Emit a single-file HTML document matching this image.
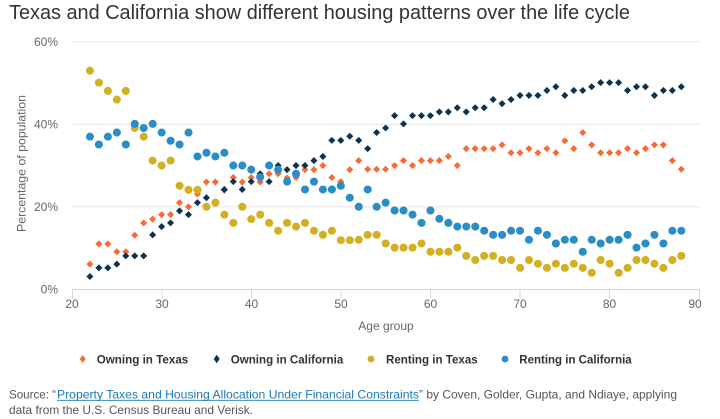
<!DOCTYPE html>
<html><head><meta charset="utf-8"><style>
html,body{margin:0;padding:0;background:#fff;}
svg{display:block;font-family:"Liberation Sans",sans-serif;}
</style></head><body>
<svg width="720" height="419" viewBox="0 0 720 419" xmlns="http://www.w3.org/2000/svg">
<rect width="720" height="419" fill="#fff"/>
<text x="9" y="19" font-size="20" fill="#333" textLength="621" lengthAdjust="spacingAndGlyphs">Texas and California show different housing patterns over the life cycle</text>

<!-- grid -->
<g stroke="#e6e6e6" stroke-width="1">
<line x1="72" x2="700" y1="206.8" y2="206.8"/>
<line x1="72" x2="700" y1="124.3" y2="124.3"/>
<line x1="72" x2="700" y1="41.8" y2="41.8"/>
</g>
<g stroke="#ccd6eb" stroke-width="1">
<line x1="72" x2="700" y1="289.5" y2="289.5"/>
<line x1="72.5" x2="72.5" y1="289.5" y2="298.5"/>
<line x1="162" x2="162" y1="289.5" y2="298.5"/>
<line x1="251.5" x2="251.5" y1="289.5" y2="298.5"/>
<line x1="341" x2="341" y1="289.5" y2="298.5"/>
<line x1="430.5" x2="430.5" y1="289.5" y2="298.5"/>
<line x1="520" x2="520" y1="289.5" y2="298.5"/>
<line x1="609.5" x2="609.5" y1="289.5" y2="298.5"/>
<line x1="699.5" x2="699.5" y1="289.5" y2="298.5"/>
</g>

<!-- y labels -->
<g font-size="12" fill="#666" text-anchor="end">
<text x="58" y="293.5">0%</text>
<text x="58" y="211">20%</text>
<text x="58" y="128.5">40%</text>
<text x="58" y="46">60%</text>
</g>
<!-- x labels -->
<g font-size="12" fill="#666" text-anchor="middle">
<text x="72" y="308">20</text>
<text x="162" y="308">30</text>
<text x="251.5" y="308">40</text>
<text x="341" y="308">50</text>
<text x="430.5" y="308">60</text>
<text x="520" y="308">70</text>
<text x="609.5" y="308">80</text>
<text x="695" y="308">90</text>
</g>
<text transform="translate(25.5,163.5) rotate(-90)" font-size="12" fill="#666" text-anchor="middle" textLength="137" lengthAdjust="spacingAndGlyphs">Percentage of population</text>
<text x="386" y="330" font-size="12" fill="#666" text-anchor="middle">Age group</text>

<!-- series -->
<g transform="matrix(8.96 0 0 -4.125 -107.2 289.3)" fill="none">
<path vector-effect="non-scaling-stroke" stroke="#fa6a37" stroke-width="5" stroke-linecap="square" d="M22 6.1l.00115 .0025M23 11l.00115 .0025M24 11l.00115 .0025M25 9.1l.00115 .0025M26 9.1l.00115 .0025M27 13.1l.00115 .0025M28 16.1l.00115 .0025M29 17l.00115 .0025M30 18.1l.00115 .0025M31 18.1l.00115 .0025M32 21l.00115 .0025M33 20l.00115 .0025M34 23.1l.00115 .0025M35 26l.00115 .0025M36 26l.00115 .0025M37 24l.00115 .0025M38 27.1l.00115 .0025M39 26l.00115 .0025M40 27.1l.00115 .0025M41 26l.00115 .0025M42 28l.00115 .0025M43 28l.00115 .0025M44 27l.00115 .0025M45 27.1l.00115 .0025M46 29l.00115 .0025M47 29l.00115 .0025M48 30l.00115 .0025M49 27.1l.00115 .0025M50 26.1l.00115 .0025M51 29l.00115 .0025M52 31.2l.00115 .0025M53 29.1l.00115 .0025M54 29.1l.00115 .0025M55 29.1l.00115 .0025M56 30l.00115 .0025M57 31.2l.00115 .0025M58 30l.00115 .0025M59 31.2l.00115 .0025M60 31.2l.00115 .0025M61 31.2l.00115 .0025M62 32.2l.00115 .0025M63 30l.00115 .0025M64 34.1l.00115 .0025M65 34.1l.00115 .0025M66 34.1l.00115 .0025M67 34.1l.00115 .0025M68 35l.00115 .0025M69 33.1l.00115 .0025M70 33.1l.00115 .0025M71 34.1l.00115 .0025M72 33.1l.00115 .0025M73 34.1l.00115 .0025M74 33.1l.00115 .0025M75 36l.00115 .0025M76 34.1l.00115 .0025M77 38l.00115 .0025M78 35l.00115 .0025M79 33.1l.00115 .0025M80 33.1l.00115 .0025M81 33.1l.00115 .0025M82 34.1l.00115 .0025M83 33.1l.00115 .0025M84 34.1l.00115 .0025M85 35l.00115 .0025M86 35l.00115 .0025M87 31.2l.00115 .0025M88 29.1l.00115 .0025"/>
<path vector-effect="non-scaling-stroke" stroke="#0b3452" stroke-width="5" stroke-linecap="square" d="M22 3.1l.00115 .0025M23 5.2l.00115 .0025M24 5.2l.00115 .0025M25 6.1l.00115 .0025M26 8.1l.00115 .0025M27 8.1l.00115 .0025M28 8.1l.00115 .0025M29 13.2l.00115 .0025M30 15.2l.00115 .0025M31 16.1l.00115 .0025M32 19l.00115 .0025M33 18.1l.00115 .0025M34 21l.00115 .0025M35 22.2l.00115 .0025M36 21l.00115 .0025M37 24.2l.00115 .0025M38 26.1l.00115 .0025M39 24.2l.00115 .0025M40 26.1l.00115 .0025M41 28l.00115 .0025M42 26.1l.00115 .0025M43 30l.00115 .0025M44 29l.00115 .0025M45 30l.00115 .0025M46 30l.00115 .0025M47 31.2l.00115 .0025M48 32.2l.00115 .0025M49 36.1l.00115 .0025M50 36.1l.00115 .0025M51 37.1l.00115 .0025M52 36.1l.00115 .0025M53 34.1l.00115 .0025M54 38l.00115 .0025M55 39.1l.00115 .0025M56 42.1l.00115 .0025M57 40.1l.00115 .0025M58 42.1l.00115 .0025M59 42.1l.00115 .0025M60 42.1l.00115 .0025M61 43l.00115 .0025M62 43l.00115 .0025M63 44l.00115 .0025M64 43l.00115 .0025M65 44l.00115 .0025M66 44l.00115 .0025M67 46l.00115 .0025M68 45l.00115 .0025M69 46l.00115 .0025M70 47l.00115 .0025M71 47l.00115 .0025M72 47l.00115 .0025M73 48.2l.00115 .0025M74 49.1l.00115 .0025M75 47l.00115 .0025M76 48.2l.00115 .0025M77 48.2l.00115 .0025M78 49.1l.00115 .0025M79 50.1l.00115 .0025M80 50.1l.00115 .0025M81 50.1l.00115 .0025M82 48.2l.00115 .0025M83 49.1l.00115 .0025M84 49.1l.00115 .0025M85 47l.00115 .0025M86 48.2l.00115 .0025M87 48.2l.00115 .0025M88 49.1l.00115 .0025"/>
<path vector-effect="non-scaling-stroke" stroke="#d3b022" stroke-width="8" stroke-linecap="round" d="M22 53h.01M23 50.1h.01M24 48.1h.01M25 46h.01M26 48.1h.01M27 39.1h.01M28 37h.01M29 31.2h.01M30 30h.01M31 31.2h.01M32 25.1h.01M33 24.1h.01M34 24.1h.01M35 20h.01M36 21h.01M37 18.1h.01M38 16.1h.01M39 20h.01M40 17h.01M41 18.1h.01M42 16.1h.01M43 14.2h.01M44 16.1h.01M45 15.2h.01M46 16.1h.01M47 14.2h.01M48 13.2h.01M49 14.2h.01M50 11.9h.01M51 11.9h.01M52 12h.01M53 13.2h.01M54 13.2h.01M55 11.1h.01M56 10.1h.01M57 10.1h.01M58 10.1h.01M59 11.1h.01M60 9.1h.01M61 9.1h.01M62 9.1h.01M63 10.1h.01M64 8.1h.01M65 7.1h.01M66 8.1h.01M67 8.1h.01M68 7.1h.01M69 7.1h.01M70 5.2h.01M71 7.1h.01M72 6.2h.01M73 5.2h.01M74 6.2h.01M75 5.2h.01M76 6.2h.01M77 5.2h.01M78 4h.01M79 7.1h.01M80 6.2h.01M81 4h.01M82 5.2h.01M83 7.1h.01M84 7.1h.01M85 6.2h.01M86 5.2h.01M87 7.1h.01M88 8.1h.01"/>
<path vector-effect="non-scaling-stroke" stroke="#2b8dc5" stroke-width="8" stroke-linecap="round" d="M22 37h.01M23 35.1h.01M24 37h.01M25 38h.01M26 35.1h.01M27 40.1h.01M28 39.1h.01M29 40.1h.01M30 38h.01M31 36h.01M32 35.1h.01M33 38h.01M34 32.2h.01M35 33.1h.01M36 32.2h.01M37 33.1h.01M38 30h.01M39 30h.01M40 29h.01M41 27.2h.01M42 30h.01M43 29h.01M44 26.1h.01M45 28h.01M46 24.2h.01M47 26.1h.01M48 24.2h.01M49 24.2h.01M50 25.1h.01M51 22.2h.01M52 20h.01M53 24.2h.01M54 20h.01M55 21h.01M56 19.1h.01M57 19.1h.01M58 18.1h.01M59 16.1h.01M60 19.1h.01M61 17.1h.01M62 16.1h.01M63 15.2h.01M64 15.2h.01M65 15.2h.01M66 14.2h.01M67 13.2h.01M68 13.2h.01M69 14.2h.01M70 14.2h.01M71 12h.01M72 14.2h.01M73 13.2h.01M74 11.1h.01M75 12h.01M76 12h.01M77 9.1h.01M78 12h.01M79 11.1h.01M80 12h.01M81 12h.01M82 13.2h.01M83 10.1h.01M84 11.1h.01M85 13.2h.01M86 11.1h.01M87 14.2h.01M88 14.2h.01"/>
</g>

<!-- legend -->
<path d="M82.7 355 L85.7 359 L82.7 363 L79.7 359 Z" fill="#fa6a37"/>
<text x="96.7" y="363.3" font-size="12" font-weight="bold" fill="#333" textLength="91.6" lengthAdjust="spacingAndGlyphs">Owning in Texas</text>
<path d="M216.7 354.8 L219.7 359 L216.7 363.2 L213.7 359 Z" fill="#0b3452"/>
<text x="230.7" y="363.3" font-size="12" font-weight="bold" fill="#333" textLength="112.6" lengthAdjust="spacingAndGlyphs">Owning in California</text>
<circle cx="371" cy="359" r="3.4" fill="#d3b022"/>
<text x="386" y="363.3" font-size="12" font-weight="bold" fill="#333" textLength="91.7" lengthAdjust="spacingAndGlyphs">Renting in Texas</text>
<circle cx="505" cy="359" r="3.4" fill="#2b8dc5"/>
<text x="519.3" y="363.3" font-size="12" font-weight="bold" fill="#333" textLength="112.4" lengthAdjust="spacingAndGlyphs">Renting in California</text>

<!-- source -->
<g font-size="12" fill="#555">
<text x="9" y="398.5" textLength="47" lengthAdjust="spacingAndGlyphs">Source: “</text>
<text x="57" y="398.5" fill="#1b78b4" textLength="362" lengthAdjust="spacingAndGlyphs">Property Taxes and Housing Allocation Under Financial Constraints</text>
<text x="419" y="398.5" textLength="258" lengthAdjust="spacingAndGlyphs">” by Coven, Golder, Gupta, and Ndiaye, applying</text>
<text x="9" y="414" textLength="244" lengthAdjust="spacingAndGlyphs">data from the U.S. Census Bureau and Verisk.</text>
</g>
<line x1="57" x2="419" y1="400.3" y2="400.3" stroke="#1b78b4" stroke-width="0.9"/>
</svg>
</body></html>
